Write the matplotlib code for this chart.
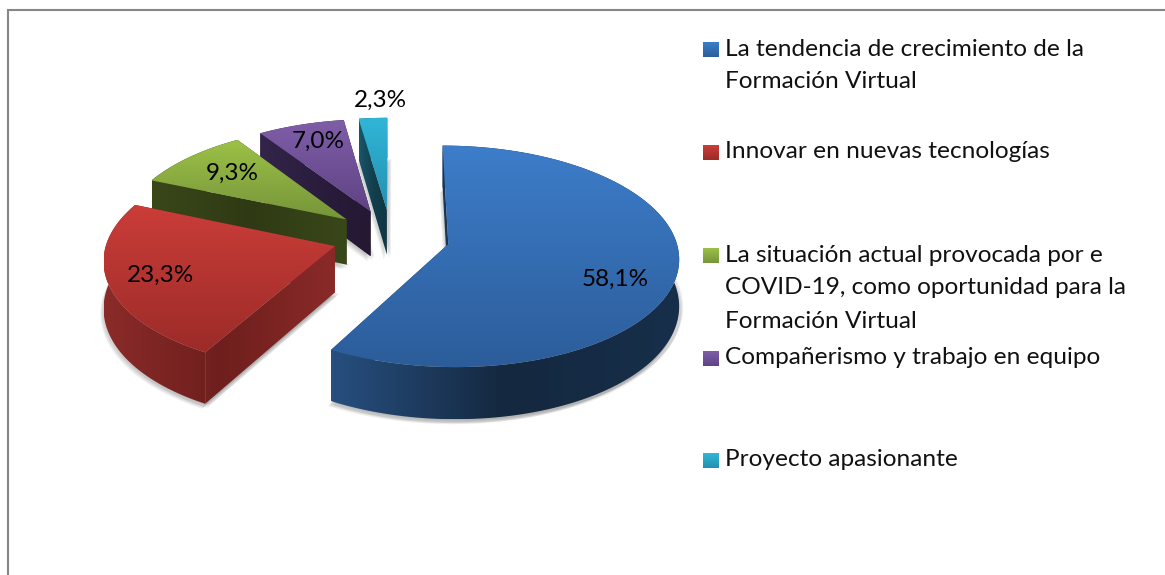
import numpy as np
import matplotlib
matplotlib.use('Agg')
import matplotlib.pyplot as plt
from matplotlib.colors import to_rgb
from matplotlib.patches import Polygon

# values in % going clockwise from 12 o'clock
labels = ['La tendencia de crecimiento de la\nFormación Virtual',
          'Innovar en nuevas tecnologías',
          'La situación actual provocada por e\nCOVID-19, como oportunidad para la\nFormación Virtual',
          'Compañerismo y trabajo en equipo',
          'Proyecto apasionante']
values = [58.1, 23.3, 9.3, 7.0, 2.3]

top_light = ['#3d7dca', '#cb3d39', '#9dc147', '#7f5ea8', '#31b6d8']
top_dark = ['#2c5d9a', '#9c2b28', '#76953a', '#5f4284', '#2490b0']
wall_cols = [['#274f7f', '#14283f', '#172f4b'],
             ['#8a2b29', '#6e1f1d', '#8a2a28'],
             ['#3a4719', '#2f3a14', '#3a4719'],
             ['#33254a', '#2a1d3e', '#241832'],
             ['#1a5669', '#123f4e', '#0f3642']]

# pie layout in pixels
CX, CY = 391, 237
R = 227
TILT = 0.475
PERSP = 0.11
EXPLODE = 0.259
DEPTH = 46

plt.rcParams['font.family'] = ['Lato', 'DejaVu Sans']
fig = plt.figure(figsize=(11.65, 5.75), dpi=100)
ax = fig.add_axes([0, 0, 1, 1])
ax.set_xlim(0, 1165)
ax.set_ylim(575, 0)
ax.axis('off')


def project(th, r, mid, z=0):
    x = r * np.sin(th) + EXPLODE * np.sin(mid)
    y = r * np.cos(th) + EXPLODE * np.cos(mid)
    s = 1 / (1 + PERSP * y)
    return CX + x * s * R, CY - y * s * R * TILT + z * s


def gradient_poly(verts, stops, z, horizontal=False, xrange=None):
    verts = np.array(verts)
    pos = np.linspace(0, 1, len(stops))
    ramp = np.linspace(0, 1, 256)
    rgb = np.array([to_rgb(c) for c in stops])
    img = np.stack([np.interp(ramp, pos, rgb[:, k]) for k in range(3)], axis=-1)
    img = img[None, :, :] if horizontal else img[:, None, :]
    x0, y0 = verts.min(axis=0)
    x1, y1 = verts.max(axis=0)
    if xrange is not None:
        x0, x1 = xrange
    im = ax.imshow(img, extent=[x0, x1, y1, y0], aspect='auto', zorder=z,
                   interpolation='bilinear')
    patch = Polygon(verts, closed=True, transform=ax.transData, fill=False, lw=0)
    ax.add_patch(patch)
    im.set_clip_path(patch)


edges = np.radians(np.cumsum([0] + values) * 3.6)
slices = list(range(len(values)))
# far slices first, the big blue one last
for n, i in enumerate(reversed(slices)):
    a0, a1 = edges[i], edges[i + 1]
    mid = (a0 + a1) / 2
    ths = np.linspace(a0, a1, max(int(np.degrees(a1 - a0)), 8))
    ax_x, ax_y = project(0, 0, mid)
    rx, ry = project(ths, 1, mid)
    bx, by = project(ths, 1, mid, DEPTH)
    b0x, b0y = project(0, 0, mid, DEPTH)
    zbase = 10 + n * 5

    # soft shadow under the slice
    base = np.column_stack([np.r_[b0x, bx], np.r_[b0y, by]])
    for dx, dy in [(-3, 5), (-2, 4), (-1, 3), (2, 4), (3, 2), (4, 1)]:
        ax.add_patch(Polygon(base + [dx, dy], closed=True, fc='#777777', ec='none',
                             alpha=0.12, zorder=zbase))

    # walls: outer rim and the two cut faces, same gradient across the slice
    xr = (min(rx.min(), ax_x), max(rx.max(), ax_x))
    rim = np.column_stack([np.r_[rx, bx[::-1]], np.r_[ry, by[::-1]]])
    gradient_poly(rim, wall_cols[i], zbase + 1, horizontal=True, xrange=xr)
    for end, th in enumerate((a0, a1)):
        ex, ey = project(th, 1, mid)
        fx, fy = project(th, 1, mid, DEPTH)
        face = [(ax_x, ax_y), (ex, ey), (fx, fy), (b0x, b0y)]
        gradient_poly(face, wall_cols[i], zbase + 1, horizontal=True, xrange=xr)

    # top face
    top = np.column_stack([np.r_[ax_x, rx], np.r_[ax_y, ry]])
    gradient_poly(top, [top_light[i], top_dark[i]], zbase + 2)

# percentage labels
pct_pos = [(615, 279), (161, 275), (232, 173), (318, 141), (380, 100)]
for v, (px, py) in zip(values, pct_pos):
    ax.text(px, py, f'{v:.1f}%'.replace('.', ','), fontsize=17.5, color='#000000',
            ha='center', va='center', zorder=50)

# legend
key_y = [49, 152, 255, 358, 460]
line_h = 33
for i, (lab, ky) in enumerate(zip(labels, key_y)):
    gradient_poly([(703, ky - 7), (719, ky - 7), (719, ky + 8), (703, ky + 8)],
                  [top_light[i], top_dark[i]], 40)
    for j, line in enumerate(lab.split('\n')):
        ax.text(725, ky + j * line_h, line, fontsize=17.6, color='#111111',
                ha='left', va='center', zorder=50)

# chart frame, cut by the image on the right and at the bottom
ax.plot([8, 8, 1165], [575, 10, 10], color='#868686', lw=1.5, zorder=60,
        solid_joinstyle='miter', clip_on=False)

ax.set_xlim(0, 1165)
ax.set_ylim(575, 0)
fig.savefig('out.png', dpi=100)
